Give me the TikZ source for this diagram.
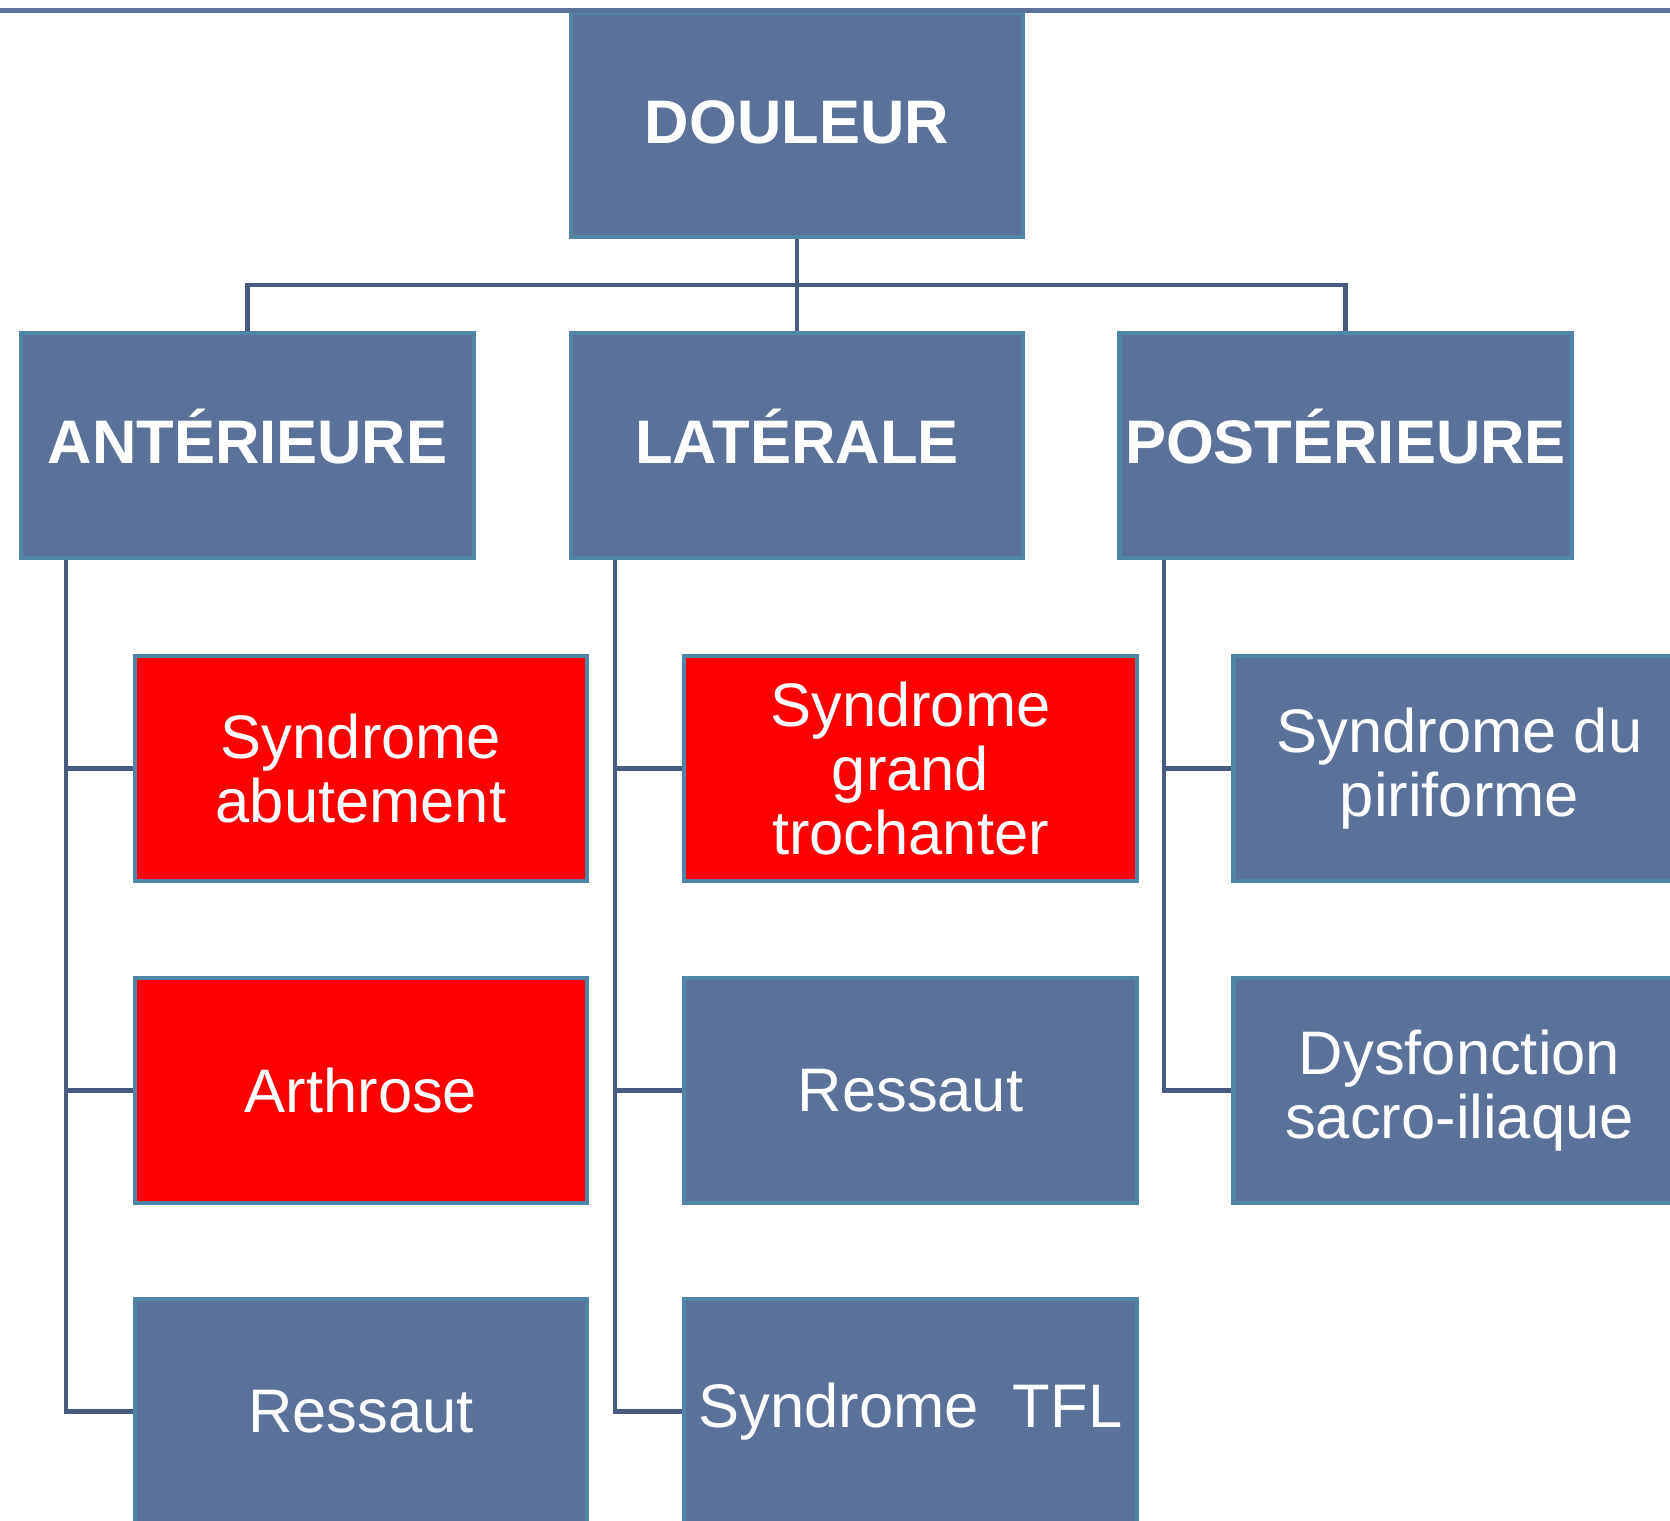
\documentclass[tikz,border=0pt]{standalone}
\usepackage{fontspec}
\setmainfont{Liberation Sans}
\usetikzlibrary{positioning, calc}
\definecolor{SlateBlue}{HTML}{5A7299}
\definecolor{EdgeTeal}{HTML}{4F86A8}
\definecolor{LinkBlue}{HTML}{475C80}
\definecolor{AlertRed}{HTML}{FF0000}

\tikzset{
    catbox/.style={draw=EdgeTeal, line width=2.5pt, fill=SlateBlue, text=white,
        minimum width=9.05cm, minimum height=4.49cm, inner sep=0pt, align=center,
        font=\fontsize{35}{36.5}\selectfont},
    headbox/.style={catbox, font=\fontsize{35}{36.5}\selectfont\bfseries,
        text height=21pt, text depth=0pt},
    redbox/.style={catbox, fill=AlertRed},
    conn/.style={draw=LinkBlue, line width=2.3pt}
}

\begin{document}
\begin{tikzpicture}[x=0.02cm, y=-0.02cm]
    \clip (0,0) rectangle (1670,1521);
    \fill[white] (0,0) rectangle (1670,1521);

    % Root
    \node[headbox] (douleur) at (797,124.6) {DOULEUR};
    \draw[SlateBlue, line width=2.8pt] (0,10.5) -- (1670,10.5);

    % Location of the pain
    \node[headbox] (ant) at (247.5,445.5) {ANTÉRIEURE};
    \node[headbox] (lat) at (797,445.5) {LATÉRALE};
    \node[headbox] (post) at (1345.5,445.5) {POSTÉRIEURE};

    \coordinate (bus) at (797,285.4);
    \draw[conn] (douleur.south) -- (bus);
    \draw[conn] (bus) -| (ant.north);
    \draw[conn] (bus) -- (lat.north);
    \draw[conn] (bus) -| (post.north);

    % Anterior causes
    \node[redbox] (abut) at (361,768.5) {Syndrome\\abutement};
    \node[redbox] (arth) at (361,1090.5) {Arthrose};
    \node[catbox] (ressAnt) at (361,1411.5) {Ressaut};

    \coordinate (antTrunk) at (66,560);
    \draw[conn] (antTrunk) |- (abut.west);
    \draw[conn] (antTrunk) |- (arth.west);
    \draw[conn] (antTrunk) |- (ressAnt.west);

    % Lateral causes
    \node[redbox] (troch) at (910.5,768.5) {Syndrome\\grand\\trochanter};
    \node[catbox] (ressLat) at (910.5,1090.5) {Ressaut};
    \node[catbox] (tfl) at (910.5,1411.5) {Syndrome\ \ TFL};

    \coordinate (latTrunk) at (615,560);
    \draw[conn] (latTrunk) |- (troch.west);
    \draw[conn] (latTrunk) |- (ressLat.west);
    \draw[conn] (latTrunk) |- (tfl.west);

    % Posterior causes
    \node[catbox] (piri) at (1459.5,768.5) {Syndrome du\\piriforme};
    \node[catbox] (sacro) at (1459.5,1090.5) {Dysfonction\\sacro-iliaque};

    \coordinate (postTrunk) at (1164,560);
    \draw[conn] (postTrunk) |- (piri.west);
    \draw[conn] (postTrunk) |- (sacro.west);
\end{tikzpicture}
\end{document}
